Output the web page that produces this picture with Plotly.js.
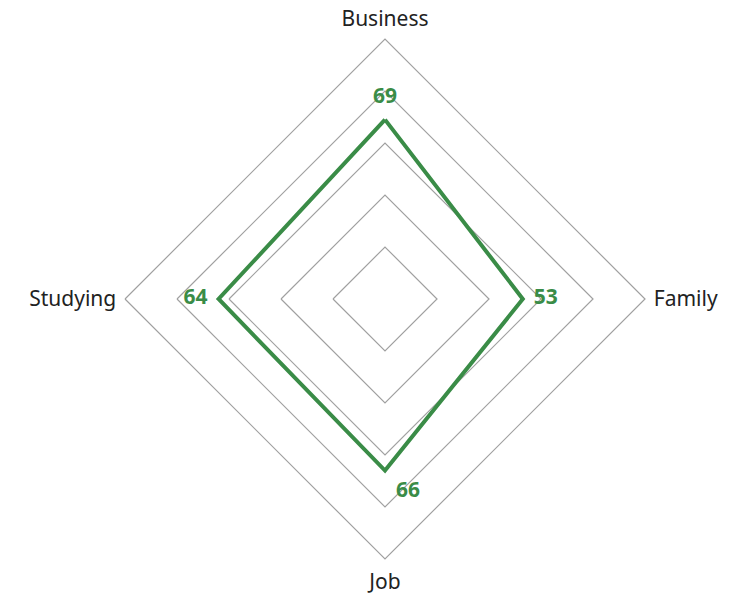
<!DOCTYPE html>
<html>
<head>
<meta charset="utf-8">
<script src="https://cdn.plot.ly/plotly-3.0.1.min.js"></script>
<style>html,body{margin:0;padding:0;background:#fff;}#chart{width:729px;height:595px;}</style>
</head>
<body>
<div id="chart"></div>
<script>
const categories = ["Business", "Family", "Job", "Studying"];
const values = [69, 53, 66, 64];
const labelPositions = ["top center", "middle right", "bottom right", "middle left"];

const trace = {
  type: "scatterpolar",
  r: values.concat([values[0]]),
  theta: categories.concat([categories[0]]),
  mode: "lines+markers+text",
  marker: {size: 16, color: "rgba(0,0,0,0)"},
  text: values.map(String).concat([""]),
  textposition: labelPositions.concat(["top center"]),
  textfont: {family: "Noto Sans, sans-serif", size: 21, color: "#3a8c47", weight: "bold"},
  line: {color: "#3a8c47", width: 4},
  hoverinfo: "skip",
  cliponaxis: false
};

const layout = {
  width: 729, height: 595,
  margin: {l: 125, r: 84, t: 39, b: 36},
  paper_bgcolor: "#fff",
  showlegend: false,
  font: {family: "Noto Sans, sans-serif", size: 21, color: "#222"},
  polar: {
    bgcolor: "#fff",
    gridshape: "linear",
    domain: {x: [0, 1], y: [0, 1]},
    radialaxis: {
      range: [0, 100], dtick: 20, showticklabels: false, ticks: "",
      showline: false, gridcolor: "#a0a0a0", gridwidth: 1.2, angle: 90
    },
    angularaxis: {
      direction: "clockwise", rotation: 90, showgrid: false,
      showline: true, linecolor: "#a0a0a0", linewidth: 1.2,
      ticks: "outside", ticklen: 4, tickcolor: "rgba(0,0,0,0)",
      tickfont: {size: 21, color: "#222"}
    }
  }
};

Plotly.newPlot("chart", [trace], layout, {displayModeBar: false, staticPlot: true});
</script>
</body>
</html>
